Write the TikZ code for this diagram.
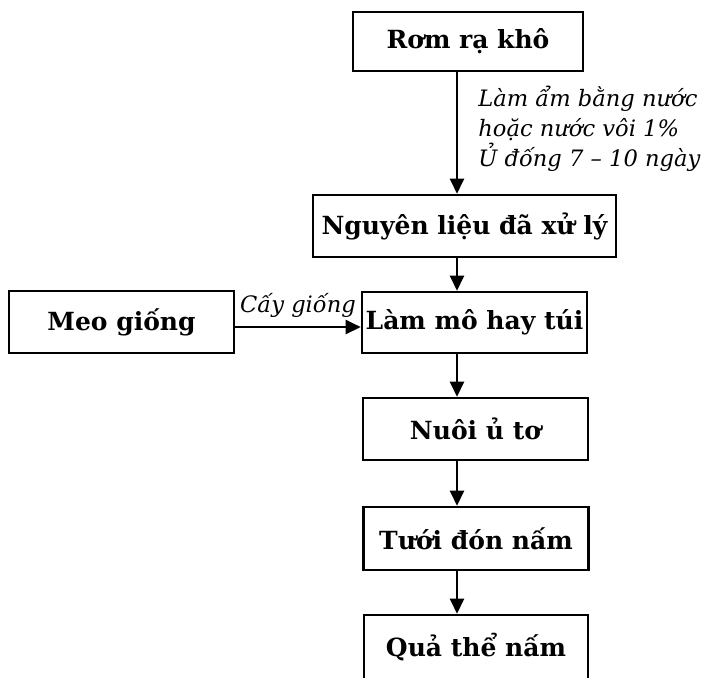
\documentclass[tikz,border=0pt]{standalone}
\usepackage{fontspec}
\setmainfont{DejaVu Serif}
\usetikzlibrary{arrows.meta}
\begin{document}
\begin{tikzpicture}[x=0.5pt,y=-0.5pt,
  stepbox/.style={draw,line width=1.3pt,inner sep=0pt,font=\bfseries\fontsize{12.5}{14}\selectfont},
  flow/.style={line width=1.2pt,-{Triangle[width=7pt,length=7.5pt]}},
  note/.style={font=\itshape\fontsize{11.3}{15}\selectfont,inner sep=0pt}]
\useasboundingbox (0,0) rectangle (708,677);
\clip (0,0) rectangle (708,677);
% process boxes
\node[stepbox,minimum width=115pt,minimum height=29.5pt] (rom)  at (468,41.5) {Rơm rạ khô};
\node[stepbox,minimum width=151.5pt,minimum height=31pt] (nl)   at (464.5,226) {Nguyên liệu đã xử lý};
\node[stepbox,minimum width=112.5pt,minimum height=30.5pt] (lam) at (474.5,322.5) {Làm mô hay túi};
\node[stepbox,minimum width=112.5pt,minimum height=31pt] (meo)  at (121.5,322) {Meo giống};
\node[stepbox,minimum width=112.5pt,minimum height=31pt] (nuoi) at (475.5,429) {Nuôi ủ tơ};
\node[stepbox,minimum width=112.5pt,minimum height=31.5pt] (tuoi) at (476,538.5) {Tưới đón nấm};
\node[stepbox,minimum width=112pt,minimum height=32pt] (qua)  at (476,647) {Quả thể nấm};
% main axis of the flow
\coordinate (axis) at (457,0);
\draw[flow] (rom.south -| axis) -- (nl.north -| axis);
\draw[flow] (nl.south -| axis) -- (lam.north -| axis);
\draw[flow] (lam.south -| axis) -- (nuoi.north -| axis);
\draw[flow] (nuoi.south -| axis) -- (tuoi.north -| axis);
\draw[flow] (tuoi.south -| axis) -- (qua.north -| axis);
\draw[flow] (meo.east |- 0,327) -- (lam.west |- 0,327)
  node[note,midway,above=4pt] {Cấy giống};
% treatment note
\node[note,anchor=north west,align=left] (treat) at (478,86)
  {Làm ẩm bằng nước\\hoặc nước vôi 1\%\\Ủ đống 7 -- 10 ngày};
\end{tikzpicture}
\end{document}
